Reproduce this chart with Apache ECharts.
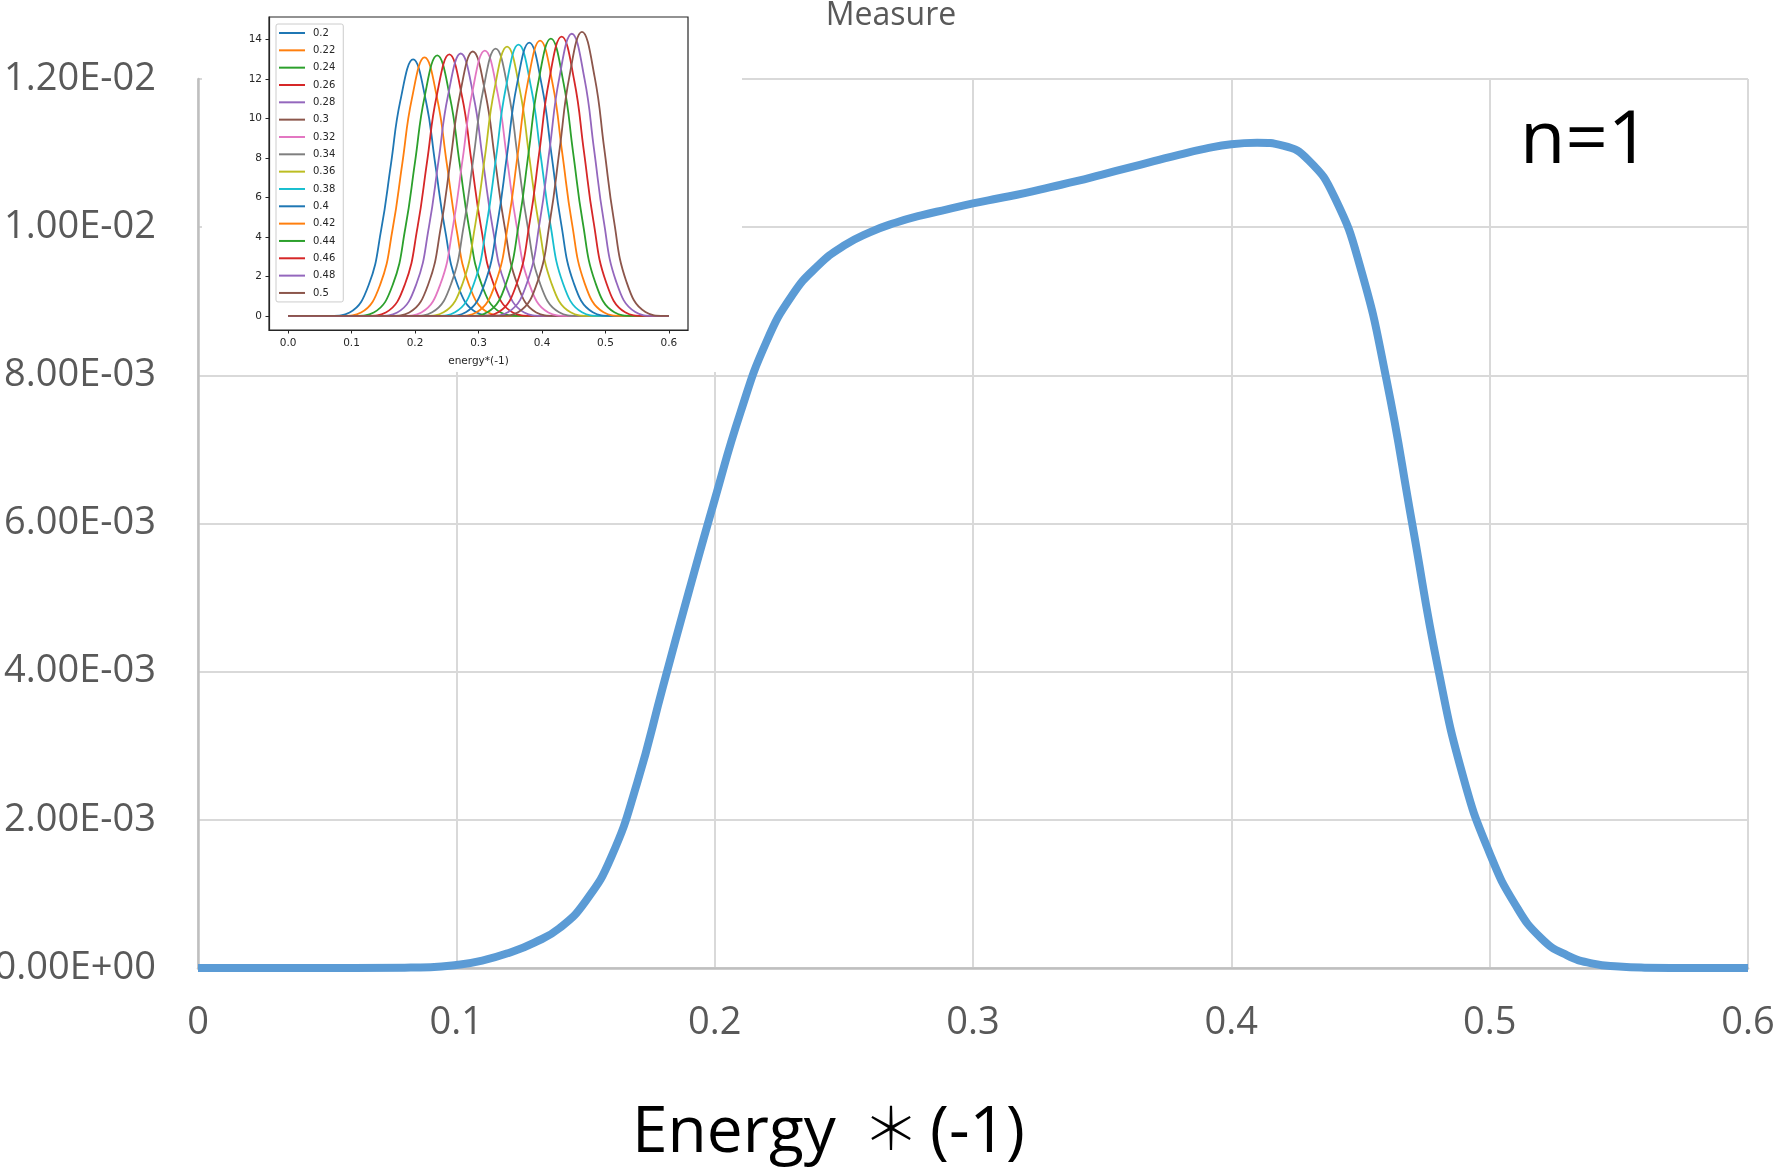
<!DOCTYPE html>
<html>
<head>
<meta charset="utf-8">
<script src="https://cdn.jsdelivr.net/npm/echarts@6/dist/echarts.min.js"></script>
<style>
  html, body { margin: 0; padding: 0; background: #fff; }
  #chart { width: 1775px; height: 1171px; }
</style>
</head>
<body>
<div id="chart"></div>
<script>
// Main curve: measure vs energy*(-1)
const energy = [0, 0.04, 0.08, 0.09, 0.1, 0.11, 0.12, 0.13, 0.14, 0.15, 0.16, 0.17, 0.18, 0.19, 0.2, 0.21, 0.22, 0.23, 0.24, 0.25, 0.26, 0.27, 0.28, 0.29, 0.3, 0.31, 0.32, 0.33, 0.34, 0.35, 0.36, 0.37, 0.38, 0.39, 0.4, 0.41, 0.42, 0.43, 0.44, 0.45, 0.46, 0.47, 0.48, 0.49, 0.5, 0.51, 0.52, 0.53, 0.54, 0.55, 0.56, 0.58, 0.6];
const measure = [0, 0, 0.000005, 0.00001, 0.00004, 0.0001, 0.0002, 0.00034, 0.00054, 0.0009, 0.0015, 0.0025, 0.0038, 0.00508, 0.00632, 0.0075, 0.00845, 0.00908, 0.00948, 0.00975, 0.00993, 0.01006, 0.01016, 0.01024, 0.01032, 0.01039, 0.01046, 0.01054, 0.01062, 0.01071, 0.0108, 0.01089, 0.01098, 0.01106, 0.01112, 0.01114, 0.0111, 0.0109, 0.0104, 0.00945, 0.00795, 0.006, 0.00405, 0.00255, 0.00155, 0.00085, 0.0004, 0.00017, 0.00006, 0.00002, 0.000005, 0, 0];

// Inset: individual peaks, one per legend entry
const insetNames = ['0.2', '0.22', '0.24', '0.26', '0.28', '0.3', '0.32', '0.34', '0.36', '0.38', '0.4', '0.42', '0.44', '0.46', '0.48', '0.5'];
const insetColors = ['#1f77b4', '#ff7f0e', '#2ca02c', '#d62728', '#9467bd', '#8c564b', '#e377c2', '#7f7f7f', '#bcbd22', '#17becf', '#1f77b4', '#ff7f0e', '#2ca02c', '#d62728', '#9467bd', '#8c564b'];

const peak020 = [[0,0],[0.067,0],[0.097,0.17],[0.127,1.56],[0.147,4.42],[0.162,7.67],[0.177,10.92],[0.197,13.0],[0.217,10.92],[0.232,7.67],[0.247,4.42],[0.267,1.56],[0.297,0.17],[0.327,0],[0.6,0]];
const peak022 = [[0,0],[0.085,0],[0.115,0.17],[0.145,1.57],[0.165,4.45],[0.18,7.73],[0.195,11.0],[0.215,13.1],[0.235,11.0],[0.25,7.73],[0.265,4.45],[0.285,1.57],[0.315,0.17],[0.345,0],[0.6,0]];
const peak024 = [[0,0],[0.105,0],[0.135,0.17],[0.165,1.58],[0.185,4.49],[0.2,7.79],[0.215,11.09],[0.235,13.2],[0.255,11.09],[0.27,7.79],[0.285,4.49],[0.305,1.58],[0.335,0.17],[0.365,0],[0.6,0]];
const peak026 = [[0,0],[0.124,0],[0.154,0.17],[0.184,1.59],[0.204,4.5],[0.219,7.82],[0.234,11.13],[0.254,13.25],[0.274,11.13],[0.289,7.82],[0.304,4.5],[0.324,1.59],[0.354,0.17],[0.384,0],[0.6,0]];
const peak028 = [[0,0],[0.142,0],[0.172,0.17],[0.202,1.6],[0.222,4.52],[0.237,7.85],[0.252,11.17],[0.272,13.3],[0.292,11.17],[0.307,7.85],[0.322,4.52],[0.342,1.6],[0.372,0.17],[0.402,0],[0.6,0]];
const peak030 = [[0,0],[0.161,0],[0.191,0.17],[0.221,1.61],[0.241,4.56],[0.256,7.91],[0.271,11.26],[0.291,13.4],[0.311,11.26],[0.326,7.91],[0.341,4.56],[0.361,1.61],[0.391,0.17],[0.421,0],[0.6,0]];
const peak032 = [[0,0],[0.18,0],[0.21,0.17],[0.24,1.61],[0.26,4.57],[0.275,7.94],[0.29,11.3],[0.31,13.45],[0.33,11.3],[0.345,7.94],[0.36,4.57],[0.38,1.61],[0.41,0.17],[0.44,0],[0.6,0]];
const peak034 = [[0,0],[0.197,0],[0.227,0.18],[0.257,1.63],[0.277,4.61],[0.292,7.99],[0.307,11.38],[0.327,13.55],[0.347,11.38],[0.362,7.99],[0.377,4.61],[0.397,1.63],[0.427,0.18],[0.457,0],[0.6,0]];
const peak036 = [[0,0],[0.215,0],[0.245,0.18],[0.275,1.64],[0.295,4.64],[0.31,8.05],[0.325,11.47],[0.345,13.65],[0.365,11.47],[0.38,8.05],[0.395,4.64],[0.415,1.64],[0.445,0.18],[0.475,0],[0.6,0]];
const peak038 = [[0,0],[0.233,0],[0.263,0.18],[0.293,1.65],[0.313,4.68],[0.328,8.11],[0.343,11.55],[0.363,13.75],[0.383,11.55],[0.398,8.11],[0.413,4.68],[0.433,1.65],[0.463,0.18],[0.493,0],[0.6,0]];
const peak040 = [[0,0],[0.25,0],[0.28,0.18],[0.31,1.66],[0.33,4.71],[0.345,8.17],[0.36,11.63],[0.38,13.85],[0.4,11.63],[0.415,8.17],[0.43,4.71],[0.45,1.66],[0.48,0.18],[0.51,0],[0.6,0]];
const peak042 = [[0,0],[0.267,0],[0.297,0.18],[0.327,1.67],[0.347,4.74],[0.362,8.23],[0.377,11.72],[0.397,13.95],[0.417,11.72],[0.432,8.23],[0.447,4.74],[0.467,1.67],[0.497,0.18],[0.527,0],[0.6,0]];
const peak044 = [[0,0],[0.284,0],[0.314,0.18],[0.344,1.69],[0.364,4.78],[0.379,8.29],[0.394,11.8],[0.414,14.05],[0.434,11.8],[0.449,8.29],[0.464,4.78],[0.484,1.69],[0.514,0.18],[0.544,0],[0.6,0]];
const peak046 = [[0,0],[0.301,0],[0.331,0.18],[0.361,1.7],[0.381,4.81],[0.396,8.35],[0.411,11.89],[0.431,14.15],[0.451,11.89],[0.466,8.35],[0.481,4.81],[0.501,1.7],[0.531,0.18],[0.561,0],[0.6,0]];
const peak048 = [[0,0],[0.317,0],[0.347,0.19],[0.377,1.72],[0.397,4.86],[0.412,8.44],[0.427,12.01],[0.447,14.3],[0.467,12.01],[0.482,8.44],[0.497,4.86],[0.517,1.72],[0.547,0.19],[0.577,0],[0.6,0]];
const peak050 = [[0,0],[0.333,0],[0.363,0.19],[0.393,1.73],[0.413,4.9],[0.428,8.5],[0.443,12.1],[0.463,14.4],[0.483,12.1],[0.498,8.5],[0.513,4.9],[0.533,1.73],[0.563,0.19],[0.593,0],[0.6,0]];
const insetPeaks = [peak020, peak022, peak024, peak026, peak028, peak030, peak032, peak034, peak036, peak038, peak040, peak042, peak044, peak046, peak048, peak050];

const xTicks = [0, 0.1, 0.2, 0.3, 0.4, 0.5, 0.6];
const insetYTicks = [0, 2, 4, 6, 8, 10, 12, 14];

const mainFont = 'Open Sans';
const insetFont = 'DejaVu Sans';

function sciLabel(v) {
  if (Math.abs(v) < 1e-12) return '0.00E+00';
  const e = Math.floor(Math.log10(Math.abs(v)) + 1e-9);
  const m = v / Math.pow(10, e);
  const sign = e < 0 ? '-' : '+';
  const ex = String(Math.abs(e)).padStart(2, '0');
  return m.toFixed(2) + 'E' + sign + ex;
}

const chart = echarts.init(document.getElementById('chart'), null, { renderer: 'canvas' });

const insetSeries = insetNames.map((name, i) => ({
  name: name,
  type: 'line',
  xAxisIndex: 1,
  yAxisIndex: 1,
  data: insetPeaks[i],
  smooth: 0.45,
  showSymbol: false,
  symbol: 'none',
  lineStyle: { width: 1.8, color: insetColors[i] },
  itemStyle: { color: insetColors[i] },
  z: 12,
  animation: false
}));

const option = {
  animation: false,
  backgroundColor: '#ffffff',
  grid: [
    { left: 198, top: 79, width: 1550, height: 889, show: false, outerBoundsMode: 'none', containLabel: false },
    { left: 269, top: 17, width: 419, height: 313, show: true, backgroundColor: '#ffffff', borderColor: '#262626', borderWidth: 1.2, z: 11, outerBoundsMode: 'none', containLabel: false }
  ],
  xAxis: [
    {
      type: 'value', gridIndex: 0, min: 0, max: 0.6, interval: 0.1,
      axisLine: { show: true, lineStyle: { color: '#bfbfbf', width: 2.5 } },
      axisTick: { show: false },
      splitLine: { show: true, lineStyle: { color: '#d9d9d9', width: 2 } },
      axisLabel: { color: '#595959', fontSize: 38, fontFamily: mainFont, margin: 36,
        formatter: v => String(Math.round(v * 10) / 10) },
      z: 1
    },
    {
      type: 'value', gridIndex: 1, min: -0.03, max: 0.63,
      axisLine: { show: true, onZero: false, lineStyle: { color: '#262626', width: 1.2 } },
      axisTick: { show: true, length: 3.5, customValues: xTicks, lineStyle: { color: '#262626', width: 1 } },
      splitLine: { show: false },
      axisLabel: { color: '#262626', fontSize: 10.5, fontFamily: insetFont, margin: 8,
        customValues: xTicks, formatter: v => v.toFixed(1) },
      name: 'energy*(-1)', nameLocation: 'middle', nameGap: 26,
      nameTextStyle: { color: '#262626', fontSize: 10.5, fontFamily: insetFont },
      z: 12
    }
  ],
  yAxis: [
    {
      type: 'value', gridIndex: 0, min: 0, max: 0.012, interval: 0.002,
      axisLine: { show: true, lineStyle: { color: '#bfbfbf', width: 2.5 } },
      axisTick: { show: false },
      splitLine: { show: true, lineStyle: { color: '#d9d9d9', width: 2 } },
      axisLabel: { color: '#595959', fontSize: 38, fontFamily: mainFont, margin: 42, formatter: sciLabel },
      z: 1
    },
    {
      type: 'value', gridIndex: 1, min: -0.72, max: 15.15,
      axisLine: { show: true, onZero: false, lineStyle: { color: '#262626', width: 1.2 } },
      axisTick: { show: true, length: 3.5, customValues: insetYTicks, lineStyle: { color: '#262626', width: 1 } },
      splitLine: { show: false },
      axisLabel: { color: '#262626', fontSize: 10.5, fontFamily: insetFont, margin: 7,
        customValues: insetYTicks, formatter: v => String(v) },
      z: 12
    }
  ],
  legend: {
    data: insetNames,
    orient: 'vertical',
    left: 276, top: 24,
    padding: [3, 8, 3, 3],
    itemWidth: 26, itemHeight: 2, itemGap: 5.33,
    icon: 'rect',
    selectedMode: false,
    backgroundColor: '#ffffff',
    borderColor: '#cccccc', borderWidth: 1, borderRadius: 2,
    textStyle: { fontSize: 10, lineHeight: 12, color: '#262626', fontFamily: insetFont, padding: [0, 0, 0, 3] },
    z: 14
  },
  graphic: [
    // white backing behind the inset panel
    { type: 'rect', z: 10, shape: { x: 202, y: 0, width: 540, height: 372 }, style: { fill: '#ffffff' } },
    { type: 'text', z: 20, style: { x: 891, y: 16, text: 'Measure', fill: '#595959',
        font: '32px "Open Sans"', textAlign: 'center', textVerticalAlign: 'middle' } },
    { type: 'text', z: 20, style: { x: 1585, y: 142, text: 'n=1', fill: '#000000',
        font: '74px "Open Sans"', textAlign: 'center', textVerticalAlign: 'middle' } },
    // x-axis title, set in three pieces for its wide spacing
    { type: 'text', z: 20, style: { x: 632, y: 1134, text: 'Energy', fill: '#000000',
        font: '64px "Open Sans"', textAlign: 'left', textVerticalAlign: 'middle' } },
    { type: 'text', z: 20, style: { x: 891, y: 1128, text: '＊', fill: '#000000',
        font: '300 58px "Noto Sans CJK JP"', textAlign: 'center', textVerticalAlign: 'middle' } },
    { type: 'text', z: 20, style: { x: 930, y: 1134, text: '(-1)', fill: '#000000',
        font: '64px "Open Sans"', textAlign: 'left', textVerticalAlign: 'middle' } }
  ],
  series: [
    {
      name: 'Measure',
      type: 'line',
      xAxisIndex: 0, yAxisIndex: 0,
      data: energy.map((x, i) => [x, measure[i]]),
      smooth: 0.5,
      showSymbol: false,
      symbol: 'none',
      lineStyle: { width: 8, color: '#5b9bd5', cap: 'butt', join: 'round' },
      itemStyle: { color: '#5b9bd5' },
      z: 2
    }
  ].concat(insetSeries)
};

chart.setOption(option);
</script>
</body>
</html>
